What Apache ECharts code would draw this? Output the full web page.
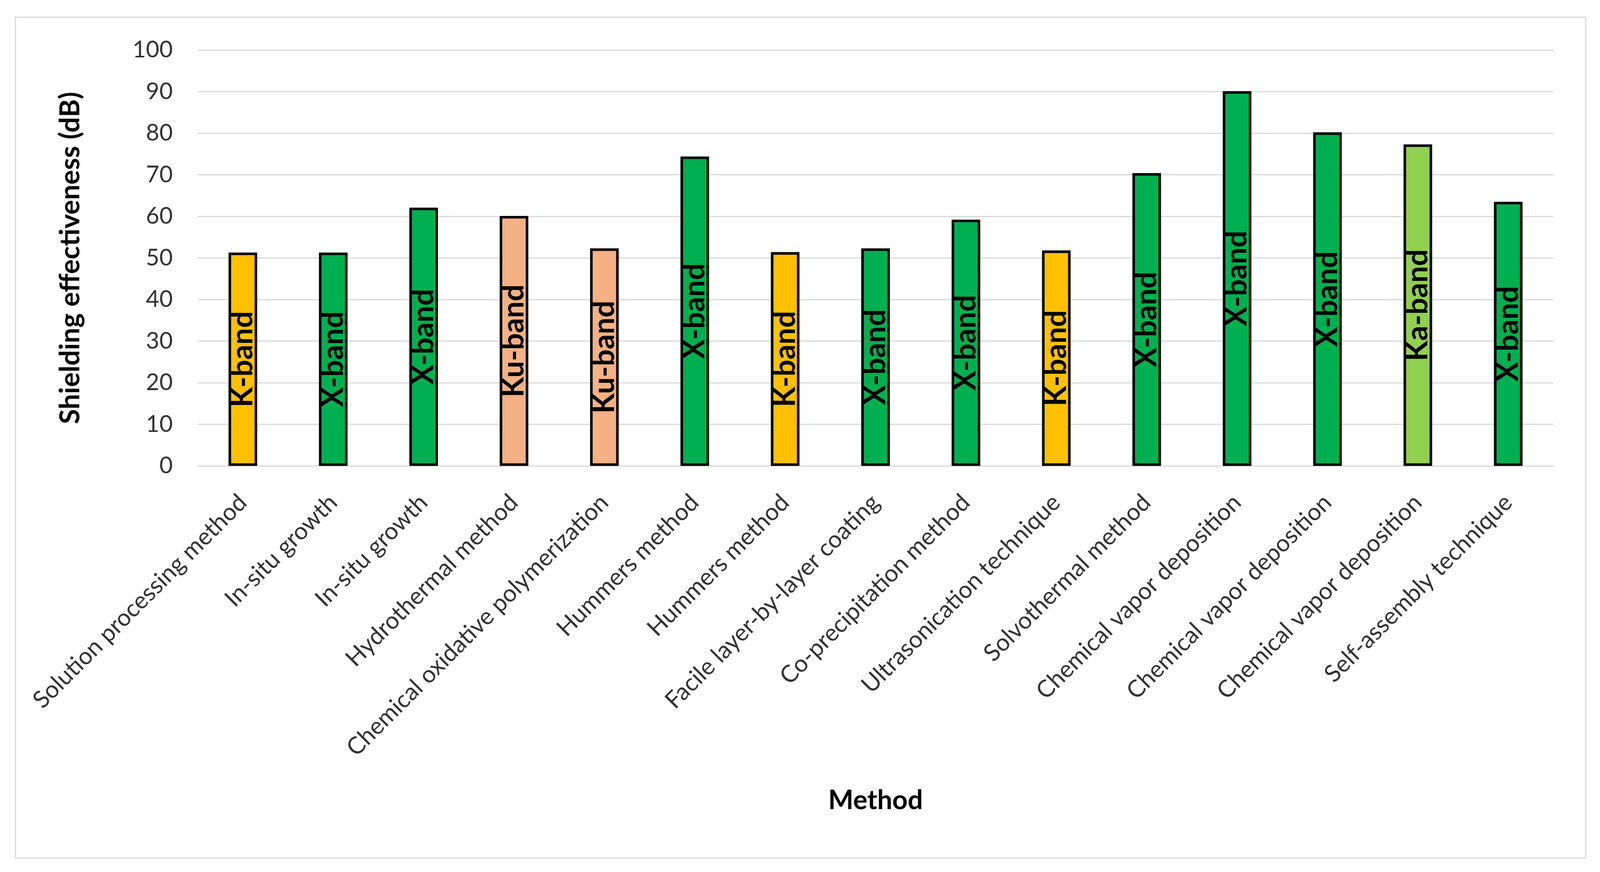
<!DOCTYPE html>
<html>
<head>
<meta charset="utf-8">
<script src="https://cdn.jsdelivr.net/npm/echarts@6/dist/echarts.min.js"></script>
<style>
html,body{margin:0;padding:0;background:#fff;overflow:hidden;}
#chart{width:100vw;height:100vh;}
</style>
</head>
<body>
<div id="chart"></div>
<script>
const categories = [
  "Solution processing method",
  "In-situ growth",
  "In-situ growth",
  "Hydrothermal method",
  "Chemical oxidative polymerization",
  "Hummers method",
  "Hummers method",
  "Facile layer-by-layer coating",
  "Co-precipitation method",
  "Ultrasonication technique",
  "Solvothermal method",
  "Chemical vapor deposition",
  "Chemical vapor deposition",
  "Chemical vapor deposition",
  "Self-assembly technique"
];
const values = [51.3, 51.3, 62.1, 60.1, 52.3, 74.4, 51.4, 52.3, 59.2, 51.8, 70.4, 90.1, 80.2, 77.3, 63.5];
const bands = ["K-band", "X-band", "X-band", "Ku-band", "Ku-band", "X-band", "K-band", "X-band", "X-band", "K-band", "X-band", "X-band", "X-band", "Ka-band", "X-band"];
const yTicks = [0, 10, 20, 30, 40, 50, 60, 70, 80, 90, 100];

const bandColors = {
  "K-band": "#FFC000",
  "X-band": "#00B050",
  "Ku-band": "#F4B183",
  "Ka-band": "#92D050"
};

const el = document.getElementById('chart');
const W = el.clientWidth, H = el.clientHeight;
const sx = W / 4363, sy = H / 2233, s = Math.min(sx, sy), sd = Math.sqrt(sx * sy);
const chart = echarts.init(el);
const FONT = 'Lato, "Open Sans", sans-serif';

chart.setOption({
  backgroundColor: '#ffffff',
  animation: false,
  textStyle: { fontFamily: FONT },
  graphic: [{
    type: 'rect',
    shape: { x: 42 * sx, y: 44 * sy, width: 4282 * sx, height: 2153 * sy },
    style: { fill: 'none', stroke: '#d9d9d9', lineWidth: 3 * s },
    silent: true
  }],
  grid: { left: 539 * sx, right: 127 * sx, top: 128 * sy, bottom: 1040 * sy, containLabel: false },
  xAxis: {
    type: 'category',
    data: categories,
    name: 'Method',
    nameLocation: 'middle',
    nameGap: 822 * sy,
    nameTextStyle: { fontSize: 73 * sx, fontWeight: 'bold', color: '#000', fontFamily: FONT },
    axisLine: { show: true, lineStyle: { color: '#d9d9d9', width: 3 * s } },
    axisTick: { show: false },
    axisLabel: {
      interval: 0,
      rotate: 45,
      margin: 84 * sy,
      fontSize: 63 * sd,
      color: '#333333',
      fontFamily: FONT
    }
  },
  yAxis: {
    type: 'value',
    min: yTicks[0],
    max: yTicks[yTicks.length - 1],
    interval: yTicks[1] - yTicks[0],
    name: 'Shielding effectiveness (dB)',
    nameLocation: 'middle',
    nameGap: 310 * sx,
    nameTextStyle: { fontSize: 70 * sy, fontWeight: 'bold', color: '#000', fontFamily: FONT },
    axisLine: { show: false },
    axisTick: { show: false },
    axisLabel: { fontSize: 63 * sx, color: '#333333', margin: 68 * sx, fontFamily: FONT },
    splitLine: { lineStyle: { color: '#d9d9d9', width: 3 * s } }
  },
  series: [{
    type: 'bar',
    barWidth: 78 * sx,
    data: values.map((v, i) => ({
      value: v,
      itemStyle: { color: bandColors[bands[i]] }
    })),
    itemStyle: { borderColor: '#000', borderWidth: 7 * s },
    label: {
      show: true,
      position: 'inside',
      rotate: 90,
      formatter: p => bands[p.dataIndex],
      fontSize: 76 * sy,
      fontWeight: 'bold',
      color: '#000',
      fontFamily: FONT
    }
  }]
});
</script>
</body>
</html>
